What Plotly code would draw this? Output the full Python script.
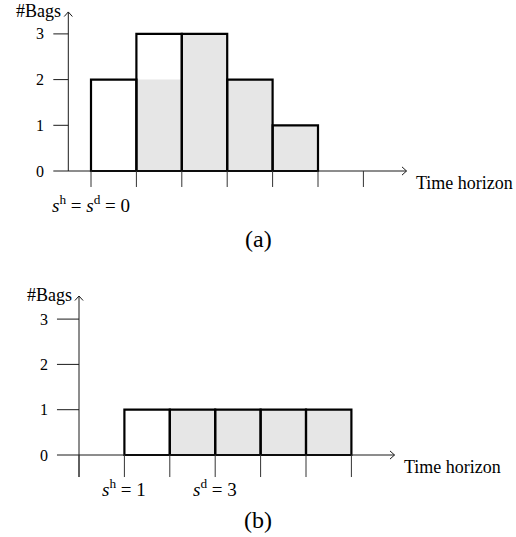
import plotly.graph_objects as go

# ---------------- data ----------------
# panel (a)
slots_a = [0, 1, 2, 3, 4]          # time slot start (tick index)
total_a = [2, 3, 3, 2, 1]          # total bags (outlined)
grey_a = [0, 2, 3, 2, 1]           # shaded part
xticks_a = [0, 1, 2, 3, 4, 5, 6]
yticks = [0, 1, 2, 3]
marks_a = [(0, "<i>s</i><sup>h</sup> = <i>s</i><sup>d</sup> = 0")]

# panel (b)
slots_b = [1, 2, 3, 4, 5]
total_b = [1, 1, 1, 1, 1]
grey_b = [0, 1, 1, 1, 1]
xticks_b = [0, 1, 2, 3, 4, 5, 6]
marks_b = [(1, "<i>s</i><sup>h</sup> = 1"), (3, "<i>s</i><sup>d</sup> = 3")]

ylabel = "#Bags"
xlabel = "Time horizon"

# ---------------- layout geometry (pixels) ----------------
W, H = 516, 537
UX = 45.4
# panel a: tick0 at px 91, y=0 at px 171, unit 45.7, panel px 0..260
A = dict(x0=91, y0=171, uy=45.7, top=0, bot=260)
# panel b: tick0 at px 79, y=0 at px 455, unit 45.3, panel px 277..537
B = dict(x0=79, y0=455, uy=45.3, top=277, bot=537)

FONT = "'Liberation Serif', 'Times New Roman', 'DejaVu Serif', serif"
AXC = "#1a1a1a"
GREY = "#e6e6e6"

fig = go.Figure()


def line(xs, ys, xa, ya, color=AXC, width=1):
    fig.add_trace(go.Scatter(x=xs, y=ys, mode="lines", xaxis=xa, yaxis=ya,
                             line=dict(color=color, width=width),
                             hoverinfo="skip", showlegend=False))


def panel(xa, ya, G, slots, total, grey, xticks, marks, yaxis_x, x_start,
          x_end, y_bot, y_top, tick_drop, tag, tag_y):
    nul = None
    # x-axis + arrow
    line([x_start, x_end], [0, 0], xa, ya)
    line([x_end - 0.1, x_end, x_end - 0.1], [0.09, 0, -0.09], xa, ya)
    # y-axis + arrow
    line([yaxis_x, yaxis_x], [y_bot, y_top], xa, ya)
    line([yaxis_x - 0.09, yaxis_x, yaxis_x + 0.09], [y_top - 0.1, y_top, y_top - 0.1], xa, ya)
    # y ticks
    xs, ys = [], []
    for t in yticks[1:]:
        xs += [x_start, yaxis_x, nul]
        ys += [t, t, nul]
    line(xs, ys, xa, ya)
    # x ticks
    xs, ys = [], []
    for t in xticks:
        xs += [t, t, nul]
        ys += [0, tick_drop, nul]
    line(xs, ys, xa, ya, color="#333333")
    # bars
    centers = [s + 0.5 for s in slots]
    fig.add_trace(go.Bar(x=centers, y=grey, width=1, xaxis=xa, yaxis=ya,
                         marker=dict(color=GREY, line=dict(width=0)),
                         hoverinfo="skip", showlegend=False))
    fig.add_trace(go.Bar(x=centers, y=total, width=1, xaxis=xa, yaxis=ya,
                         marker=dict(color="rgba(0,0,0,0)",
                                     line=dict(color="black", width=2.2)),
                         hoverinfo="skip", showlegend=False))
    ann = []
    for t in yticks:
        ann.append(dict(x=x_start - 7 / UX, y=t, text=str(t), xanchor="right",
                        yanchor="middle", font=dict(size=16)))
    ann.append(dict(x=yaxis_x - 5 / UX, y=y_top + 0.02, text=ylabel, xanchor="right",
                    yanchor="middle", font=dict(size=18)))
    ann.append(dict(x=x_end + 7 / UX, y=-12 / G["uy"], text=xlabel, xanchor="left",
                    yanchor="middle", font=dict(size=18)))
    for t, s in marks:
        ann.append(dict(x=t, y=-33 / G["uy"], text=s, xanchor="center",
                        yanchor="middle", font=dict(size=19)))
    ann.append(dict(x=(258 - G["x0"]) / UX, y=tag_y, text=tag, xanchor="center",
                    yanchor="middle", font=dict(size=24)))
    for a in ann:
        a.update(xref=xa, yref=ya, showarrow=False)
        a["font"].update(family=FONT, color="black")
        fig.add_annotation(**a)


panel("x", "y", A, slots_a, total_a, grey_a, xticks_a, marks_a,
      yaxis_x=-0.5, x_start=-0.83, x_end=6.95, y_bot=0, y_top=3.48,
      tick_drop=-0.35, tag="(a)", tag_y=(171 - 239) / 45.7)
panel("x2", "y2", B, slots_b, total_b, grey_b, xticks_b, marks_b,
      yaxis_x=0, x_start=-0.485, x_end=6.95, y_bot=-0.486, y_top=3.51,
      tick_drop=-0.486, tag="(b)", tag_y=(455 - 520) / 45.3)


def ax_range(G):
    xr = [(0 - G["x0"]) / UX, (W - G["x0"]) / UX]
    yr = [(G["y0"] - G["bot"]) / G["uy"], (G["y0"] - G["top"]) / G["uy"]]
    yd = [1 - G["bot"] / H, 1 - G["top"] / H]
    return xr, yr, yd


xra, yra, yda = ax_range(A)
xrb, yrb, ydb = ax_range(B)
hidden = dict(visible=False, showgrid=False, zeroline=False, fixedrange=True)
fig.update_layout(
    width=W, height=H, margin=dict(l=0, r=0, t=0, b=0),
    paper_bgcolor="white", plot_bgcolor="rgba(0,0,0,0)",
    barmode="overlay", showlegend=False,
    xaxis=dict(range=xra, domain=[0, 1], anchor="y", **hidden),
    yaxis=dict(range=yra, domain=yda, anchor="x", **hidden),
    xaxis2=dict(range=xrb, domain=[0, 1], anchor="y2", **hidden),
    yaxis2=dict(range=yrb, domain=ydb, anchor="x2", **hidden),
    font=dict(family=FONT, color="black"),
)

fig.write_html("out.html", config={"displayModeBar": False},
               post_script="document.body.style.margin='0';document.body.style.padding='0';")
